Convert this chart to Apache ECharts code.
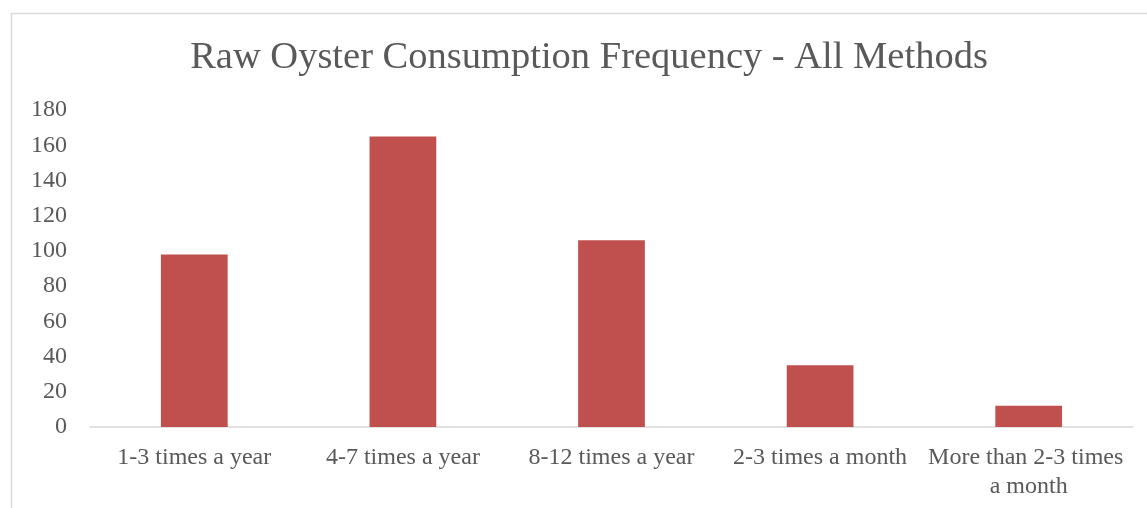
<!DOCTYPE html>
<html>
<head>
<meta charset="utf-8">
<script src="https://cdn.jsdelivr.net/npm/echarts@6/dist/echarts.min.js"></script>
<style>
  html,body{margin:0;padding:0;background:#fff;}
  #chart{width:1147px;height:508px;}
</style>
</head>
<body>
<div id="chart"></div>
<script>
var titleText = "Raw Oyster Consumption Frequency - All Methods";
var categories = ["1-3 times a year", "4-7 times a year", "8-12 times a year", "2-3 times a month", "More than 2-3 times a month"];
var counts = [98, 165, 106, 35, 12];
var yTicks = {min: 0, max: 180, step: 20};

var fontFam = "'Liberation Serif', 'DejaVu Serif', serif";
var chart = echarts.init(document.getElementById("chart"));

var chartoptions = {
  animation: false,
  backgroundColor: "#fff",
  graphic: [
    {
      type: "rect",
      shape: {x: 11.5, y: 13.5, width: 1300, height: 700},
      style: {fill: "none", stroke: "#d9d9d9", lineWidth: 1.5},
      silent: true
    }
  ],
  title: {
    text: titleText,
    left: 584,
    top: 33,
    textAlign: "center",
    textStyle: {
      fontFamily: fontFam,
      fontWeight: "normal",
      fontSize: 38.5,
      color: "#595959"
    }
  },
  grid: {
    left: 90,
    right: 14,
    top: 110,
    bottom: 81,
    containLabel: false
  },
  xAxis: {
    type: "category",
    data: categories,
    axisLine: {lineStyle: {color: "#d9d9d9", width: 1.5}},
    axisTick: {show: false},
    axisLabel: {
      interval: 0,
      margin: 16,
      width: 205,
      overflow: "break",
      lineHeight: 29,
      fontFamily: fontFam,
      fontSize: 24,
      color: "#595959"
    }
  },
  yAxis: {
    type: "value",
    min: yTicks.min,
    max: yTicks.max,
    interval: yTicks.step,
    splitLine: {show: false},
    axisLine: {show: false},
    axisTick: {show: false},
    axisLabel: {
      margin: 23,
      fontFamily: fontFam,
      fontSize: 24,
      color: "#595959"
    }
  },
  series: [
    {
      type: "bar",
      data: counts,
      barWidth: "32%",
      itemStyle: {color: "#C0504D"}
    }
  ]
};
chart.setOption(chartoptions);
</script>
</body>
</html>
